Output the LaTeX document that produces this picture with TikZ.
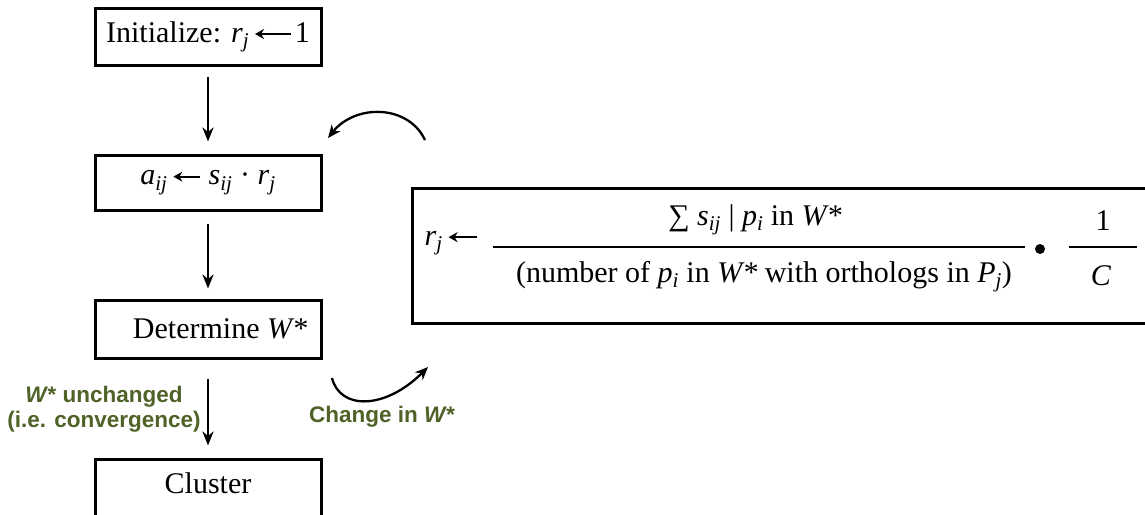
\documentclass[tikz,border=0pt]{standalone}
\usepackage{fontspec}
\setmainfont{Liberation Serif}
\newfontfamily\labfont{Liberation Sans}
\usetikzlibrary{arrows.meta}
\definecolor{labgreen}{HTML}{4F6228}
\newcommand{\iv}[1]{\textit{#1}}
\newcommand{\isub}[2]{\textit{#1}\textsubscript{\textit{#2}}}
\newcommand{\tarr}[1]{\tikz[baseline=-8pt]\draw[line width=1.7pt,{Stealth[length=9pt,width=10pt]}-] (0pt,0pt) -- (#1,0pt);}
\begin{document}
\begin{tikzpicture}[x=1pt,y=-1pt,
  box/.style={draw, line width=3pt, minimum width=226pt, inner sep=0pt, font=\fontsize{30}{36}\selectfont},
  txt/.style={font=\fontsize{30}{36}\selectfont, inner sep=0pt},
  arr/.style={line width=2.8pt, -{Stealth[length=14pt,width=11pt]}},
  carr/.style={line width=2.3pt, -{Stealth[length=13pt,width=11pt]}},
  lab/.style={text=labgreen, font=\labfont\bfseries\fontsize{22.5}{25}\selectfont, inner sep=0pt, align=center}]
\useasboundingbox (0,0) rectangle (1145,514);
% boxes
\node[box, minimum height=57pt] (init) at (208,36.5) {Initialize: \isub{r}{j}\,\tarr{36pt}\hspace{3pt}1};
\node[box, minimum height=55pt] (upd) at (208,182.5) {\isub{a}{ij}\,\tarr{27pt}\ \isub{s}{ij} · \isub{r}{j}};
\node[box, minimum height=58pt] (det) at (208,329) {\hspace{24pt}Determine \iv{W*}};
\node[box, minimum height=70pt] (clu) at (208,494) {};
\node[txt] (clut) at (208,483) {Cluster};
% arrows
\draw[arr, shorten <=10pt, shorten >=12pt] (init.south) -- (upd.north);
\draw[arr, shorten <=12pt, shorten >=10pt] (upd.south) -- (det.north);
\draw[arr, shorten <=19pt, shorten >=12pt] (det.south) -- (clu.north);
% formula box
\node[box, minimum width=750pt, minimum height=135pt] (fbox) at (787,255.5) {};
\node[txt] (rj) at (451,243) {\isub{r}{j}\,\tarr{28pt}};
\node[txt] (num) at (755,220) {∑ \isub{s}{ij} | \isub{p}{i} in \iv{W*}};
\draw[line width=2.4pt] (493,247) -- (1025,247);
\node[txt] (den) at (764,277) {(number of \isub{p}{i} in \iv{W*} with orthologs in \isub{P}{j})};
\fill (1040,249) circle (5pt);
\node[txt] (one) at (1103,221) {1};
\draw[line width=2.4pt] (1069,247) -- (1137,247);
\node[txt] (cc) at (1101,276) {\iv{C}};
% curved arrows
\coordinate (c1s) at (425,140);
\coordinate (c1e) at (328,138);
\draw[carr] (c1s) .. controls (408,104) and (355,104) .. (c1e);
\coordinate (c2s) at (332,378);
\coordinate (c2e) at (428,367);
\draw[carr] (c2s) .. controls (340,410) and (385,410) .. (c2e);
% labels
\node[lab] (unch) at (104,409.5) {\iv{W*} unchanged\\(i.e. convergence)};
\node[lab] (chg) at (382,417) {Change in \iv{W*}};
\end{tikzpicture}
\end{document}
